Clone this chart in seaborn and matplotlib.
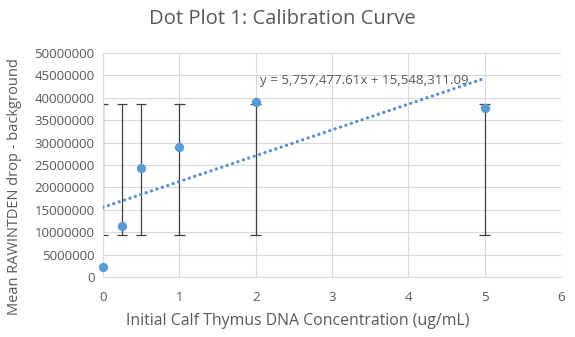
import numpy as np
import pandas as pd
import matplotlib
matplotlib.use("Agg")
import matplotlib.pyplot as plt
import seaborn as sns

# Data
concentration = [0, 0.25, 0.5, 1, 2, 5]
mean_rawintden = [2300000, 11400000, 24400000, 29100000, 39100000, 37800000]
err_lower_bound = [9400000, 9400000, 9400000, 9400000, 9400000, 9400000]
err_upper_bound = [38500000, 38500000, 38500000, 38500000, 38500000, 38500000]
slope = 5757477.61
intercept = 15548311.09
equation_label = "y = 5,757,477.61x + 15,548,311.09"
x_ticks = [0, 1, 2, 3, 4, 5, 6]
y_ticks = list(range(0, 50000001, 5000000))

sns.set_theme(style="white")
plt.rcParams['font.family'] = ['Open Sans', 'DejaVu Sans']

txt = "#595959"
blue = "#5B9BD5"

fig = plt.figure(figsize=(5.75, 3.37), dpi=100)
ax = fig.add_axes([0.179, 0.178, 0.797, 0.665])

df = pd.DataFrame({"x": concentration, "y": mean_rawintden})

# error bars (custom bounds)
x_arr = np.array(concentration, dtype=float)
lo = np.array(err_lower_bound, dtype=float)
hi = np.array(err_upper_bound, dtype=float)
ax.vlines(x_arr, lo, hi, color="#404040", lw=0.9, zorder=2)
ax.hlines(lo, x_arr - 0.07, x_arr + 0.07, color="#404040", lw=0.9, zorder=2)
ax.hlines(hi, x_arr - 0.07, x_arr + 0.07, color="#404040", lw=0.9, zorder=2)

# trendline
tx = np.array([min(concentration), max(concentration)], dtype=float)
trend = pd.DataFrame({"x": tx, "y": slope * tx + intercept})
sns.lineplot(data=trend, x="x", y="y", ax=ax, color="#5B8FC9", lw=2.4,
             linestyle=(0, (0.01, 1.7)), zorder=3, dash_capstyle="round")

sns.scatterplot(data=df, x="x", y="y", ax=ax, color=blue, s=45,
                edgecolor=blue, linewidth=0, zorder=4, clip_on=False)

ax.set_xlim(0, 6)
ax.set_ylim(0, 50000000)
ax.set_xticks(x_ticks)
ax.set_yticks(y_ticks)
ax.set_yticklabels([str(v) for v in y_ticks])
ax.set_xticklabels([str(v) for v in x_ticks])
ax.tick_params(axis="both", colors=txt, labelsize=9.5, length=0, pad=6)
ax.tick_params(axis="x", pad=10)
ax.grid(True, color="#D9D9D9", lw=0.8)
ax.set_axisbelow(True)
for s in ["top", "right"]:
    ax.spines[s].set_visible(False)
for s in ["left", "bottom"]:
    ax.spines[s].set_color("#D9D9D9")
    ax.spines[s].set_linewidth(0.8)

ax.set_xlabel("")
ax.set_ylabel("")
fig.text(298 / 575, 1 - 321 / 337, "Initial Calf Thymus DNA Concentration (ug/mL)",
         color=txt, fontsize=11.4, ha="center", va="center")
fig.text(15 / 575, 1 - 186.5 / 337, "Mean RAWINTDEN drop - background",
         color=txt, fontsize=10.5, ha="center", va="center", rotation=90)
ax.text(2.06, 43800000, equation_label, color=txt, fontsize=9.6,
        va="center", ha="left")

fig.text(282 / 575, 1 - 19 / 337, "Dot Plot 1: Calibration Curve", ha="center",
         va="center", color=txt, fontsize=14.6)

fig.savefig("out.png", dpi=100, facecolor="white")
